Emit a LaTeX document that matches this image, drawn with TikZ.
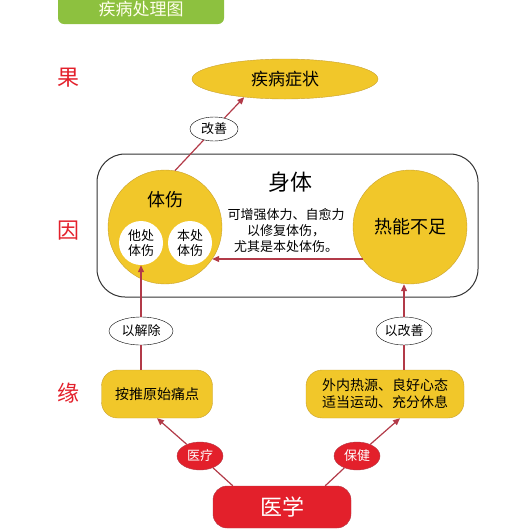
\documentclass[tikz,border=0pt]{standalone}
\usepackage{fontspec}
\setmainfont{Noto Sans CJK SC}
\usetikzlibrary{shapes.geometric, arrows.meta}
\definecolor{jaune}{HTML}{F1C72A}
\definecolor{bordjaune}{HTML}{C9A231}
\definecolor{rouge}{HTML}{E3202B}
\definecolor{lienrouge}{HTML}{B23A48}
\definecolor{vert}{HTML}{8DC13F}

\begin{document}
\begin{tikzpicture}[x=1pt,y=-1pt,
  soft/.style={circle,fill=jaune,draw=bordjaune,minimum size=114pt,inner sep=0pt,font=\fontsize{18}{21}\selectfont},
  blanc/.style={circle,fill=white,minimum size=44pt,inner sep=0pt,align=center,font=\fontsize{13}{15}\selectfont},
  bulle/.style={ellipse,draw=black,fill=white,minimum height=28pt,inner sep=0pt,font=\fontsize{13}{15}\selectfont},
  boite/.style={rectangle,rounded corners=16pt,fill=jaune,draw=bordjaune,minimum height=48pt,inner sep=0pt,align=center,font=\fontsize{14}{17}\selectfont},
  rbulle/.style={ellipse,fill=rouge,draw=lienrouge,minimum width=46pt,minimum height=28pt,inner sep=0pt,text=white,font=\fontsize{13}{15}\selectfont},
  cote/.style={text=rouge,font=\fontsize{22}{24}\selectfont},
  lien/.style={draw=lienrouge,line width=1.2pt},
  fleche/.style={lien,-{Triangle[length=7pt,width=6pt]}}]
  \useasboundingbox (0,0) rectangle (529,528);
  % Nodes
  \node[fill=vert,rounded corners=6pt,minimum width=166pt,minimum height=30pt,text=white!92!yellow,font=\fontsize{17}{19}\selectfont] (title) at (141,9) {疾病处理图};
  \node[cote] (guo) at (68,78) {果};
  \node[cote] (yin) at (68,231) {因};
  \node[cote] (yuan) at (68,393) {缘};
  \node[ellipse,fill=jaune,draw=bordjaune,minimum width=186pt,minimum height=40pt,inner sep=0pt,font=\fontsize{17}{19}\selectfont] (symptom) at (285,79) {疾病症状};
  \node[draw=black!80,line width=1pt,rounded corners=28pt,minimum width=381pt,minimum height=143pt] (body) at (287.5,225.5) {};
  \node[font=\fontsize{22}{24}\selectfont] (bodylabel) at (290,182) {身体};
  \node[soft] (injury) at (165,227) {};
  \node[font=\fontsize{18}{21}\selectfont] (injurylabel) at (165,200) {体伤};
  \node[blanc] (other) at (141,243) {他处\\体伤};
  \node[blanc] (local) at (190,243) {本处\\体伤};
  \node[soft] (heat) at (410,227) {热能不足};
  \node[align=center,font=\fontsize{13}{16}\selectfont] (note) at (286,231) {可增强体力、自愈力\\以修复体伤，\\尤其是本处体伤。};
  \node[bulle,minimum width=48pt,minimum height=24pt] (better) at (214,129) {改善};
  \node[bulle,minimum width=64pt] (relieve) at (141,331) {以解除};
  \node[bulle,minimum width=56pt] (improve) at (404,331) {以改善};
  \node[boite,minimum width=111pt] (massage) at (157,394) {按推原始痛点};
  \node[boite,minimum width=158pt] (habits) at (385,394) {外内热源、良好心态\\适当运动、充分休息};
  \node[rectangle,rounded corners=14pt,fill=rouge,draw=lienrouge,minimum width=138pt,minimum height=42pt,text=white,font=\fontsize{22}{24}\selectfont] (medicine) at (282,507) {医学};
  \node[rbulle] (treat) at (200,456) {医疗};
  \node[rbulle] (care) at (357,456) {保健};
  % Connectors up to the symptoms
  \draw[lien] (injury.80) -- (better);
  \draw[fleche] (better) -- (symptom.204);
  % Connectors inside the body
  \draw[fleche] (heat.214) -- (heat.214 -| local.east);
  % Connectors from the conditions
  \draw[lien] (massage.north -| relieve) -- (relieve);
  \draw[fleche] (relieve) -- (other);
  \draw[lien] (habits.north -| improve) -- (improve);
  \draw[fleche] (improve) -- (heat.south -| improve);
  % Connectors from medicine
  \draw[lien] ([xshift=20pt]medicine.north west) -- (treat);
  \draw[fleche] (treat) -- (massage.south);
  \draw[lien] ([xshift=-26pt]medicine.north east) -- (care);
  \draw[fleche] (care) -- ([xshift=15pt]habits.south);
\end{tikzpicture}
\end{document}
